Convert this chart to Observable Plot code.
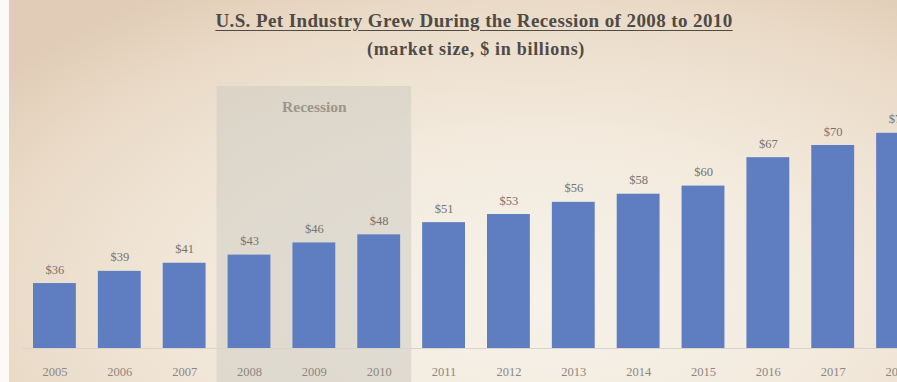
<!DOCTYPE html>
<html>
<head>
<meta charset="utf-8">
<script src="https://cdn.jsdelivr.net/npm/d3@7"></script>
<script src="https://cdn.jsdelivr.net/npm/@observablehq/plot@0.6"></script>
<style>
html, body { margin: 0; padding: 0; width: 897px; height: 382px; overflow: hidden; }
body {
  position: relative;
  font-family: "Liberation Serif", "Times New Roman", serif;
  background: radial-gradient(ellipse 75% 95% at 60% 78%, #f6f2ea 0%, #f3eadd 45%, #eadbc8 80%, #e1cdb7 100%);
}
#strip { position: absolute; left: 0; top: 0; width: 9px; height: 382px; background: #fbfaf7; }
#title {
  position: absolute; top: 11px; left: 474px; transform: translateX(-50%);
  white-space: nowrap; font-size: 19px; line-height: 19px; font-weight: bold; letter-spacing: 0.4px;
  text-decoration: underline; text-underline-offset: 3px; color: #4e4a46;
}
#subtitle {
  position: absolute; top: 40px; left: 476px; transform: translateX(-50%);
  white-space: nowrap; font-size: 18px; line-height: 18px; font-weight: bold; letter-spacing: 0.7px; color: #4e4a46;
}
#chart { position: absolute; top: 62px; left: 0; }
</style>
</head>
<body>
<div id="strip"></div>
<div id="title">U.S. Pet Industry Grew During the Recession of 2008 to 2010</div>
<div id="subtitle">(market size, $ in billions)</div>
<div id="chart"></div>
<script>
const years = [2005, 2006, 2007, 2008, 2009, 2010, 2011, 2012, 2013, 2014, 2015, 2016, 2017, 2018];
const values = [36, 39, 41, 43, 46, 48, 51, 53, 56, 58, 60, 67, 70, 73];
const recessionYears = [2008, 2009, 2010];
const recessionLabel = ["Recession"];
const axisMin = 20;

const data = years.map((year, i) => ({year, value: values[i]}));

const chart = Plot.plot({
  width: 897,
  height: 320,
  marginTop: 24,
  marginBottom: 0,
  marginLeft: 22,
  marginRight: 0,
  style: {background: "transparent", fontFamily: "Liberation Serif, serif", overflow: "hidden"},
  x: {type: "band", domain: years, range: [22, 930], padding: 0, round: false, axis: null},
  y: {domain: [20, 70], range: [286, 83], axis: null},
  marks: [
    Plot.cell(recessionYears, {x: d => d, fill: "#cbc9c1", fillOpacity: 0.5}),
    Plot.text(recessionLabel, {x: () => recessionYears[1], frameAnchor: "top", dy: 14, text: d => d,
      fill: "#9b968e", fontSize: 15.5, fontWeight: "bold"}),
    Plot.ruleY([axisMin], {stroke: "#d9d3c9"}),
    Plot.barY(data, {x: "year", y1: axisMin, y2: "value", fill: "#5f7ec2", insetLeft: 11, insetRight: 11}),
    Plot.text(data, {x: "year", y: "value", text: d => "$" + d.value, dy: -14, fill: "#77726c", fontSize: 12.5}),
    Plot.text(years, {x: d => d, y: axisMin, dy: 23, text: d => String(d), fill: "#8d8781", fontSize: 12.5})
  ]
});
document.getElementById("chart").appendChild(chart);
</script>
</body>
</html>
